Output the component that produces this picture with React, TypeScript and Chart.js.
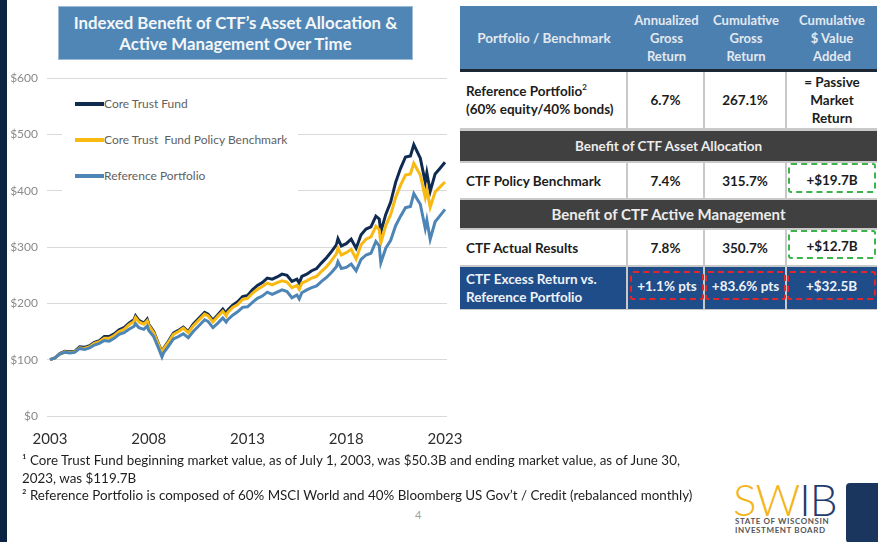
import React, { useEffect, useRef } from "react";
import { Chart, registerables } from "chart.js";

Chart.register(...registerables);

// ---- DATA ----
const dates = [
  2003.5, 2003.75, 2004.0, 2004.25, 2004.5, 2004.75, 2005.0, 2005.25, 2005.5, 2005.75,
  2006.0, 2006.25, 2006.5, 2006.75, 2007.0, 2007.25, 2007.5, 2007.75, 2007.83, 2008.0,
  2008.25, 2008.42, 2008.5, 2008.75, 2009.0, 2009.17, 2009.25, 2009.5, 2009.75, 2010.0,
  2010.25, 2010.5, 2010.75, 2011.0, 2011.33, 2011.5, 2011.75, 2012.0, 2012.25, 2012.42,
  2012.5, 2012.75, 2013.0, 2013.25, 2013.5, 2013.75, 2014.0, 2014.25, 2014.5, 2014.75,
  2015.0, 2015.25, 2015.5, 2015.75, 2016.0, 2016.12, 2016.25, 2016.5, 2016.75, 2017.0,
  2017.25, 2017.5, 2017.75, 2018.0, 2018.08, 2018.25, 2018.5, 2018.75, 2019.0, 2019.25,
  2019.5, 2019.75, 2020.0, 2020.17, 2020.25, 2020.5, 2020.75, 2021.0, 2021.25, 2021.5,
  2021.75, 2021.92, 2022.25, 2022.5, 2022.58, 2022.75, 2023.0, 2023.25, 2023.5,
];

const coreTrustFund = [
  100, 103, 111, 115, 114, 115, 123, 122, 125, 131,
  134, 141, 141, 146, 153, 157, 165, 171, 178, 170,
  165, 172, 163, 150, 128, 113, 120, 133, 147, 152,
  158, 150, 163, 172, 184, 181, 170, 180, 190, 182,
  188, 197, 203, 212, 214, 224, 232, 237, 245, 243,
  247, 252, 250, 239, 243, 236, 248, 252, 258, 262,
  272, 281, 292, 304, 315, 302, 306, 314, 298, 322,
  332, 336, 355, 350, 327, 358, 380, 415, 440, 460,
  462, 482, 458, 415, 432, 399, 430, 440, 450.7,
];

const policyBenchmark = [
  100, 103, 110, 114, 113, 114, 121, 120, 123, 129,
  132, 138, 138, 143, 150, 154, 162, 168, 175, 167,
  163, 169, 161, 148, 127, 112, 119, 131, 145, 150,
  156, 148, 160, 169, 181, 178, 167, 177, 186, 178,
  184, 193, 198, 207, 209, 218, 225, 230, 236, 233,
  237, 240, 238, 228, 232, 225, 236, 240, 245, 248,
  257, 265, 276, 288, 298, 286, 290, 296, 279, 304,
  314, 318, 337, 331, 307, 338, 358, 388, 410, 428,
  430, 449, 428, 388, 402, 371, 398, 407, 415.7,
];

const referencePortfolio = [
  100, 103, 110, 113, 112, 113, 120, 118, 121, 126,
  129, 134, 133, 138, 145, 148, 154, 159, 164, 157,
  154, 160, 152, 141, 120, 105, 112, 124, 137, 141,
  146, 139, 150, 159, 171, 168, 157, 165, 174, 167,
  171, 179, 185, 193, 194, 202, 209, 213, 220, 216,
  220, 224, 221, 210, 215, 208, 219, 224, 228, 231,
  239, 246, 255, 265, 274, 262, 264, 270, 258, 278,
  286, 289, 310, 302, 272, 298, 312, 338, 355, 370,
  372, 395, 376, 333, 348, 314, 345, 356, 367.1,
];

const seriesNames = ["Core Trust Fund", "Core Trust  Fund Policy Benchmark", "Reference Portfolio"];
const seriesColors = ["#0f2b52", "#f8b912", "#4d85b7"];
const yTickValues = [0, 100, 200, 300, 400, 500, 600];
const xTickYears = [2003, 2008, 2013, 2018, 2023];

const FONT = "Lato, 'Open Sans', 'DejaVu Sans', sans-serif";

function Box(props: { x: number; y: number; w: number; h: number; bg?: string; style?: any; children?: any }) {
  const { x, y, w, h, bg, style, children } = props;
  return (
    <div
      style={{
        position: "absolute",
        left: x,
        top: y,
        width: w,
        height: h,
        background: bg,
        display: "flex",
        flexDirection: "column",
        alignItems: "center",
        justifyContent: "center",
        textAlign: "center",
        boxSizing: "border-box",
        ...style,
      }}
    >
      {children}
    </div>
  );
}

function LineChart() {
  const ref = useRef<HTMLCanvasElement | null>(null);
  useEffect(() => {
    const canvas = ref.current;
    if (!canvas) return;
    const seriesValues = [coreTrustFund, policyBenchmark, referencePortfolio];
    const chart = new Chart(canvas, {
      type: "line",
      data: {
        datasets: seriesValues.map((vals, i) => ({
          label: seriesNames[i],
          data: dates.map((d, j) => ({ x: d, y: vals[j] })),
          borderColor: seriesColors[i],
          backgroundColor: seriesColors[i],
          borderWidth: 3,
          pointRadius: 0,
          tension: 0,
          order: 3 - i,
        })),
      },
      options: {
        animation: false,
        responsive: false,
        devicePixelRatio: 1,
        layout: { padding: { top: 13, right: 31, left: 0, bottom: 0 } },
        plugins: { legend: { display: false }, tooltip: { enabled: false } },
        scales: {
          x: {
            type: "linear",
            min: 2003.348,
            max: 2023.601,
            grid: { display: false, drawTicks: false },
            border: { display: false },
            afterBuildTicks: (scale: any) => {
              scale.ticks = xTickYears.map((y) => ({ value: y + 0.5 }));
            },
            afterFit: (scale: any) => {
              scale.height = 41;
            },
            ticks: {
              autoSkip: false,
              maxRotation: 0,
              padding: 14,
              color: "#2f2f2f",
              font: { family: FONT, size: 15 },
              callback: (v: any) => String(Math.floor(Number(v))),
            },
          },
          y: {
            min: 0,
            max: 600,
            grid: { color: "#d9d9d9", lineWidth: 1, drawTicks: false },
            border: { display: false },
            afterBuildTicks: (scale: any) => {
              scale.ticks = yTickValues.map((v) => ({ value: v }));
            },
            afterFit: (scale: any) => {
              scale.width = 39;
            },
            ticks: {
              padding: 9,
              color: "#8a8a8a",
              font: { family: FONT, size: 12 },
              callback: (v: any) => "$" + v,
            },
          },
        },
      },
    } as any);
    return () => chart.destroy();
  }, []);
  return (
    <canvas
      ref={ref}
      width={470}
      height={395}
      style={{ position: "absolute", left: 8, top: 62, width: 470, height: 395 }}
    />
  );
}

export default function App() {
  const legendY = [104, 140, 176];
  const hdrText = { color: "#e3e8ef", fontWeight: 700, fontSize: 13, lineHeight: "18px" };
  const bodyText = { color: "#1c1c1c", fontWeight: 700, fontSize: 13.5, lineHeight: "18px" };
  const secText = { color: "#ececec", fontWeight: 700, fontSize: 13.5 };
  const navyText = { color: "#eef2f8", fontWeight: 700, fontSize: 13.5 };
  const cols = [
    [460, 166],
    [628, 75],
    [705, 80],
    [787, 90],
  ];
  const dashed = (color: string, x: number, y: number, w: number, h: number) => (
    <div
      style={{
        position: "absolute",
        left: x,
        top: y,
        width: w,
        height: h,
        border: `2px dashed ${color}`,
        borderRadius: 3,
        boxSizing: "border-box",
      }}
    />
  );
  return (
    <div
      style={{
        position: "absolute",
        left: 0,
        top: 0,
        width: 878,
        height: 542,
        background: "#ffffff",
        overflow: "hidden",
        fontFamily: FONT,
      }}
    >
      {/* left stripe */}
      <div style={{ position: "absolute", left: 0, top: 0, width: 7, height: 542, background: "#0b2443" }} />

      {/* title */}
      <Box
        x={58}
        y={6}
        w={355}
        h={54}
        bg="#4f86b6"
        style={{ color: "#f4f6f8", fontWeight: 700, fontSize: 16.8, lineHeight: "21px", border: "1px solid #9dbbd6" }}
      >
        <div>Indexed Benefit of CTF’s Asset Allocation &amp;</div>
        <div>Active Management Over Time</div>
      </Box>

      <LineChart />

      {/* legend */}
      <div style={{ position: "absolute", left: 62, top: 86, width: 236, height: 106, background: "#ffffff" }} />
      {seriesNames.map((n, i) => (
        <React.Fragment key={n}>
          <div
            style={{
              position: "absolute",
              left: 75,
              top: legendY[i] - 2,
              width: 29,
              height: 4,
              background: seriesColors[i],
            }}
          />
          <div
            style={{
              position: "absolute",
              left: 104,
              top: legendY[i] - 9,
              height: 18,
              lineHeight: "18px",
              fontSize: 12,
              color: "#5f5f5f",
              whiteSpace: "pre",
            }}
          >
            {n}
          </div>
        </React.Fragment>
      ))}

      {/* table */}
      <div style={{ position: "absolute", left: 460, top: 69, width: 417, height: 241, background: "#c9c9c9" }} />
      <Box x={460} y={6} w={417} h={63} bg="#4b80b1" />
      <div style={{ position: "absolute", left: 460, top: 69, width: 417, height: 3, background: "#1d2733" }} />
      <Box x={460} y={6} w={168} h={63} style={hdrText}>
        <div style={{ fontSize: 13.5 }}>Portfolio / Benchmark</div>
      </Box>
      <Box x={628} y={6} w={77} h={63} style={hdrText}>
        <div>Annualized</div>
        <div>Gross</div>
        <div>Return</div>
      </Box>
      <Box x={705} y={6} w={82} h={63} style={hdrText}>
        <div>Cumulative</div>
        <div>Gross</div>
        <div>Return</div>
      </Box>
      <Box x={787} y={6} w={90} h={63} style={hdrText}>
        <div>Cumulative</div>
        <div>$ Value</div>
        <div>Added</div>
      </Box>

      {/* row 1 */}
      {cols.map(([x, w], i) => (
        <Box key={"r1" + i} x={x} y={72} w={w} h={56} bg="#ffffff" />
      ))}
      <Box x={460} y={72} w={166} h={56} style={{ ...bodyText, alignItems: "flex-start", textAlign: "left", paddingLeft: 6 }}>
        <div>
          Reference Portfolio<sup style={{ fontSize: 8, verticalAlign: "6px", lineHeight: 0 }}>2</sup>
        </div>
        <div>(60% equity/40% bonds)</div>
      </Box>
      <Box x={628} y={72} w={75} h={56} style={bodyText}>6.7%</Box>
      <Box x={705} y={72} w={80} h={56} style={bodyText}>267.1%</Box>
      <Box x={787} y={72} w={90} h={56} style={bodyText}>
        <div>= Passive</div>
        <div>Market</div>
        <div>Return</div>
      </Box>

      {/* section 1 */}
      <Box x={460} y={131} w={417} h={30} bg="#404040" style={secText}>
        Benefit of CTF Asset Allocation
      </Box>

      {/* row 2 */}
      {cols.map(([x, w], i) => (
        <Box key={"r2" + i} x={x} y={163} w={w} h={35} bg="#ffffff" />
      ))}
      <Box x={460} y={163} w={166} h={35} style={{ ...bodyText, alignItems: "flex-start", paddingLeft: 6 }}>
        CTF Policy Benchmark
      </Box>
      <Box x={628} y={163} w={75} h={35} style={bodyText}>7.4%</Box>
      <Box x={705} y={163} w={80} h={35} style={bodyText}>315.7%</Box>
      {dashed("#3cb44b", 788, 163, 88, 30)}
      <Box x={787} y={163} w={90} h={33} style={bodyText}>+$19.7B</Box>

      {/* section 2 */}
      <Box x={460} y={200} w={417} h={28} bg="#404040" style={{ ...secText, fontSize: 15 }}>
        Benefit of CTF Active Management
      </Box>

      {/* row 3 */}
      {cols.map(([x, w], i) => (
        <Box key={"r3" + i} x={x} y={230} w={w} h={35} bg="#ffffff" />
      ))}
      <Box x={460} y={230} w={166} h={35} style={{ ...bodyText, alignItems: "flex-start", paddingLeft: 6 }}>
        CTF Actual Results
      </Box>
      <Box x={628} y={230} w={75} h={35} style={bodyText}>7.8%</Box>
      <Box x={705} y={230} w={80} h={35} style={bodyText}>350.7%</Box>
      {dashed("#3cb44b", 788, 230, 88, 29)}
      <Box x={787} y={230} w={90} h={32} style={bodyText}>+$12.7B</Box>

      {/* row 4 */}
      {cols.map(([x, w], i) => (
        <Box key={"r4" + i} x={x} y={267} w={w} h={42} bg="#1f4d8a" />
      ))}
      <Box x={460} y={267} w={166} h={42} style={{ ...navyText, alignItems: "flex-start", textAlign: "left", paddingLeft: 6, lineHeight: "18px" }}>
        <div>CTF Excess Return vs.</div>
        <div>Reference Portfolio</div>
      </Box>
      {dashed("#e3262d", 630, 271, 74, 29)}
      {dashed("#e3262d", 705, 271, 81, 29)}
      {dashed("#e3262d", 787, 271, 89, 29)}
      <Box x={630} y={271} w={74} h={29} style={navyText}>+1.1% pts</Box>
      <Box x={705} y={271} w={81} h={29} style={navyText}>+83.6% pts</Box>
      <Box x={787} y={271} w={89} h={29} style={navyText}>+$32.5B</Box>

      {/* footnotes */}
      <div
        style={{
          position: "absolute",
          left: 22,
          top: 452,
          fontSize: 13.4,
          lineHeight: "17.5px",
          color: "#1e1e1e",
          whiteSpace: "nowrap",
        }}
      >
        <div>¹ Core Trust Fund beginning market value, as of July 1, 2003, was $50.3B and ending market value, as of June 30,</div>
        <div>2023, was $119.7B</div>
        <div>² Reference Portfolio is composed of 60% MSCI World and 40% Bloomberg US Gov’t / Credit (rebalanced monthly)</div>
      </div>
      <div style={{ position: "absolute", left: 415, top: 508, fontSize: 11, color: "#a0a0a0" }}>4</div>

      {/* logo */}
      <div
        style={{
          position: "absolute",
          left: 733,
          top: 474,
          fontSize: 44,
          fontWeight: 300,
          lineHeight: "50px",
          letterSpacing: -1,
          whiteSpace: "nowrap",
        }}
      >
        <span style={{ color: "#f3b51c" }}>SW</span>
        <span style={{ color: "#1f3c6d" }}>IB</span>
      </div>
      <div
        style={{
          position: "absolute",
          left: 735,
          top: 517,
          fontSize: 8,
          fontWeight: 700,
          lineHeight: "8.5px",
          color: "#555555",
          letterSpacing: 0.6,
          whiteSpace: "nowrap",
        }}
      >
        <div>STATE OF WISCONSIN</div>
        <div>INVESTMENT BOARD</div>
      </div>
      <div
        style={{
          position: "absolute",
          left: 846,
          top: 483,
          width: 40,
          height: 60,
          background: "#1b365e",
          borderRadius: 4,
        }}
      />
    </div>
  );
}
